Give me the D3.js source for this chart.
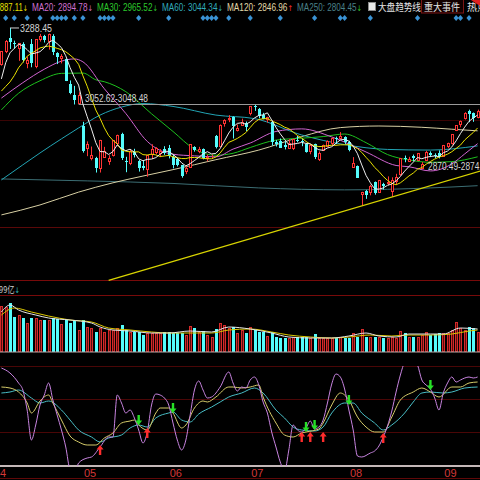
<!DOCTYPE html>
<html>
<head>
<meta charset="utf-8">
<script src="https://cdn.jsdelivr.net/npm/d3@7"></script>
<style>
html, body { margin: 0; padding: 0; background: #000; }
svg { display: block; }
</style>
</head>
<body>
<div id="chart"></div>
<script>
// trading days shown (2019-04-03 .. 2019-09-12)
var dates = ["04-03","04-04","04-08","04-09","04-10","04-11","04-12","04-15","04-16","04-17","04-18","04-19","04-22","04-23","04-24","04-25","04-26","04-29","04-30",
  "05-06","05-07","05-08","05-09","05-10","05-13","05-14","05-15","05-16","05-17","05-20","05-21","05-22","05-23","05-24","05-27","05-28","05-29","05-30","05-31",
  "06-03","06-04","06-05","06-06","06-10","06-11","06-12","06-13","06-14","06-17","06-18","06-19","06-20","06-21","06-24","06-25","06-26","06-27","06-28",
  "07-01","07-02","07-03","07-04","07-05","07-08","07-09","07-10","07-11","07-12","07-15","07-16","07-17","07-18","07-19","07-22","07-23","07-24","07-25","07-26","07-29","07-30","07-31",
  "08-01","08-02","08-05","08-06","08-07","08-08","08-09","08-12","08-13","08-14","08-15","08-16","08-19","08-20","08-21","08-22","08-23","08-26","08-27","08-28","08-29","08-30",
  "09-02","09-03","09-04","09-05","09-06","09-09","09-10","09-11","09-12"];

var open = [3177,3218,3258,3241,3226,3240,3180,3238,3171,3253, 3262,3247,3265,3210,3195,3192,3115,3081,3055,2984,
  2916,2884,2884,2851,2887,2875,2892,2929,2958,2874, 2867,2903,2875,2858,2850,2896,2901,2899,2910,2914,
  2887,2880,2861,2843,2855,2918,2905,2911,2884,2888, 2952,2920,2991,3004,3012,2970,2986,2993,3024,3046,
  3036,3017,3006,2997,2934,2936,2924,2915,2913,2940, 2935,2928,2904,2926,2880,2907,2921,2929,2946,2945,
  2950,2934,2855,2859,2770,2779,2777,2809,2777,2803, 2805,2782,2811,2834,2884,2875,2888,2877,2851,2876,
  2900,2894,2898,2889,2922,2931,2971,2990,3009,3030, 3024,3012];
var high = [3216.3,3251,3288.45,3249,3242,3244,3199,3254,3254,3270, 3267,3271,3269,3213,3207,3193,3125,3108,3088,2996,
  2935,2919,2887,2940,2918,2892,2939,2956,2962,2887, 2911,2912,2877,2876,2893,2926,2917,2911,2920,2924,
  2894,2884,2862,2860,2926,2920,2918,2913,2894,2894, 2955,2988,3004,3017,3013,2988,3006,2997,3045,3048.9,
  3039,3024,3012,3000,2939,2944,2935,2942,2943,2952, 2943,2930,2927,2928,2904,2925,2938,2947,2950,2964,
  2951,2937,2886,2860,2778,2784,2800,2810,2815,2806, 2826,2823,2834,2883,2891,2887,2894,2899,2870.49,2906,
  2904,2898,2907,2924,2931,2957,2986,3000,3026,3034, 3025,3034];
var low = [3171,3210,3223,3224,3186,3181,3163,3166,3163,3246, 3243,3221,3204,3176,3178,3123,3082,3050,3052.62,2900,
  2889,2876,2838,2838,2895,2862,2888,2920,2877,2839, 2861,2885,2841,2845,2825,2880,2895,2886,2893,2882,
  2851,2857,2822,2833,2852,2903,2898,2879,2873,2880, 2913,2917,2981,2995,2944,2966,2983,2967,3016,3030,
  3007,3004,2994,2922,2919,2915,2910,2913,2908,2932, 2920,2900,2895,2880,2874,2905,2917,2921,2927,2942,
  2927,2904,2855,2821,2733.92,2756,2767,2769,2776,2785, 2798,2762,2800,2828,2870,2871,2874,2874.6,2850,2875,
  2886,2883,2882,2889,2914,2925,2970,2979,3003,2995, 2996,3007];
var close = [3216.30,3246.57,3244.81,3239.66,3241.93,3189.96,3188.63,3177.79,3253.60,3263.12,
  3250.20,3270.80,3215.04,3198.59,3201.61,3123.83,3086.40,3062.50,3078.34,2906.46,
  2926.39,2893.76,2850.95,2939.21,2903.71,2883.61,2938.68,2955.71,2882.30,2870.60,
  2905.97,2891.70,2852.52,2852.99,2892.38,2909.91,2914.70,2905.81,2898.70,2890.08,
  2862.28,2861.42,2827.80,2852.13,2925.72,2909.38,2910.74,2881.97,2887.62,2890.16,
  2917.80,2987.12,3001.98,3008.15,2982.07,2976.28,2996.79,2978.88,3044.90,3043.94,
  3015.26,3005.25,3011.06,2933.36,2928.23,2915.30,2917.76,2930.55,2942.19,2937.62,
  2931.69,2901.95,2924.20,2886.97,2899.94,2923.28,2937.36,2944.54,2941.01,2952.34,
  2932.51,2908.77,2867.84,2821.50,2777.56,2768.68,2794.55,2774.75,2814.99,2797.26,
  2808.91,2815.80,2823.82,2883.10,2880.33,2880.00,2883.44,2897.43,2863.57,2902.19,
  2893.76,2890.92,2886.24,2924.11,2930.15,2957.41,2985.86,2999.60,3024.74,3021.20,
  3008.81,3031.24];
// closes of the 9 sessions before the window (for the short averages)
var preCloses = [3101.46,3104.15,3043.03,2997.10,3022.72,2994.94,3090.76,3170.36,3176.82];

// turnover, 亿
var volume = [4600,4500,4900,3500,3700,3400,2900,3400,3400,3200, 3200,3200,3400,3300,2800,3200,2900,3200,2200,3200,
  2500,2400,2000,2400,2000,2200,2200,2400,2700,2200, 2000,2000,2000,1700,1900,1900,1900,1900,2000,2000,
  1900,1900,1900,1700,2600,2400,2000,2100,1700,1500, 2300,2900,2700,2400,2500,1900,2200,1900,2500,2200,
  2000,2000,1600,2000,1500,1400,1400,1400,1500,1500, 1500,1500,1400,1800,1400,1400,1400,1400,1400,1500,
  1400,1400,1900,1500,2300,1500,1500,1500,1500,1400, 1400,1500,1400,2100,1900,1500,1500,1500,1700,2000,
  1700,1800,1900,1900,1900,2200,3000,2400,2200,2500, 2400,2000];

// longer averages: [session index, value]
var ma20 = [[0,3070],[5,3118],[10,3160],[14,3185],[17,3192],[19,3183],[24,3099],[29,3022],[34,2935],[40,2895],[45,2890],[50,2887],[54,2911],[58,2930],[64,2966],[70,2974],[77,2949],[85,2902],[92,2860],[95,2856],[100,2843],[105,2865],[108,2896],[111,2928]];
var ma30 = [[0,3033],[4,3085],[9,3124],[14,3147],[19,3148],[22,3127],[24,3121],[29,3090],[35,3021],[40,2966],[45,2911],[50,2892],[54,2898],[58,2916],[64,2939],[70,2945],[75,2950],[80,2958],[85,2931],[90,2894],[95,2877],[100,2870],[105,2872],[111,2887]];
var ma60 = [[0,2815],[5,2862],[9,2899],[14,2943],[18,2977],[23,3017],[28,3042],[33,3053],[40,3044],[50,3017],[59,3006],[70,2955],[80,2925],[90,2910],[100,2908],[111,2921]];
var ma120 = [[0,2706],[9,2737],[18,2777],[26,2806],[33,2827],[40,2847],[50,2878],[60,2908],[70,2950],[79,2978],[88,2983],[98,2979],[105,2973],[111,2968]];
var ma250 = [[0,2818],[20,2812],[40,2804],[60,2790],[80,2784],[100,2790],[111,2797]];
var trendLine = [[25,2502],[112,2844]];

var volMa5 = [[0,4000],[2,4700],[4,4200],[8,3700],[11,3400],[16,3200],[21,2900],[23,2500],[26,2200],[30,2100],[35,1900],[39,1900],[44,2100],[49,2000],[53,2500],[58,2300],[63,1900],[67,1500],[72,1400],[77,1400],[81,1600],[85,1900],[88,1600],[92,1500],[95,1800],[100,1800],[103,1800],[107,2400],[111,2300]];
var volMa10 = [[0,3700],[3,4400],[7,4000],[11,3600],[16,3200],[21,3000],[25,2400],[30,2200],[35,2000],[39,1900],[44,1900],[49,1900],[53,2200],[58,2300],[63,2000],[67,1700],[72,1500],[77,1400],[81,1500],[86,1700],[91,1600],[95,1700],[100,1700],[105,1800],[109,2100],[111,2200]];

// oscillator panel lines
var jLine = [[0,98],[2,93],[4,83],[5,76],[6,56],[7,26],[8,41],[9,61],[10,71],[11,83],[12,66],[13,51],[14,36],[15,19],[16,-4],[17,-8],[18,3],[20,8],[21,9],[23,19],[25,29],[26,29],[27,71],[28,63],[29,53],[30,56],[31,48],[32,36],[33,23],[34,34],[35,61],[36,72],[37,71],[38,68],[39,61],[40,43],[41,26],[42,16],[43,26],[44,51],[45,76],[46,85],[47,76],[48,68],[49,69],[51,79],[53,94],[54,83],[55,75],[56,79],[57,78],[58,86],[59,89],[60,81],[61,64],[62,53],[63,34],[64,19],[65,4],[66,-5],[67,16],[68,41],[69,36],[70,34],[71,38],[72,45],[73,37],[74,39],[75,46],[76,63],[77,82],[78,92],[79,89],[80,77],[81,56],[82,36],[83,10],[84,9],[86,13],[87,15],[88,20],[89,29],[90,40],[91,55],[92,74],[93,91],[94,104],[95,108],[96,106],[97,101],[98,86],[99,81],[100,77],[101,68],[102,56],[103,73],[104,83],[105,89],[106,84],[107,86],[108,88],[109,89],[110,88],[111,89]];
var kLine = [[0,79],[2,78],[4,74],[6,63],[7,53],[9,65],[11,71],[12,63],[14,46],[16,30],[18,24],[20,21],[22,21],[24,28],[26,33],[28,43],[30,45],[31,46],[32,41],[34,36],[36,53],[37,58],[39,58],[40,53],[42,38],[43,41],[45,58],[47,65],[48,64],[50,69],[53,79],[54,79],[56,78],[58,79],[60,81],[61,69],[64,43],[66,31],[68,29],[70,33],[71,34],[74,37],[75,43],[77,61],[79,73],[81,66],[83,49],[85,39],[87,34],[89,34],[91,49],[93,66],[96,74],[98,78],[100,74],[102,69],[105,79],[107,79],[109,83],[111,84]];
var dLine = [[0,73],[2,74],[4,76],[7,68],[9,63],[11,65],[14,56],[16,46],[18,36],[21,29],[23,24],[25,28],[28,31],[30,38],[32,41],[34,39],[36,48],[39,53],[40,54],[42,46],[44,44],[46,52],[49,59],[51,64],[53,69],[56,73],[59,78],[61,73],[64,56],[66,48],[68,39],[70,36],[73,35],[75,39],[77,53],[80,63],[82,63],[84,53],[87,43],[89,36],[91,41],[94,53],[96,64],[98,73],[100,74],[103,73],[105,74],[108,78],[111,79]];
var goldenCross = [[23,21],[34,38],[70,34],[72,34],[75,34],[89,33]];
var deadCross = [[32,41],[40,53],[71,34],[73,36],[81,61],[100,76]];

var eventDays = [1,3,6,9,12,13,14,15,17,19,23,24,25,26,32,39,47,48,49,50,53,58,65,73,79,80,86,97,106,107,109];
var monthLabels = ["04","05","06","07","08","09"];
var monthStart = [-2,19,39,58,81,103];

var maNames = ["MA10","MA20","MA30","MA60","MA120","MA250"];
var maLast = ["2887.11","2894.78","2965.52","3044.34","2846.96","2804.45"];
var maTrend = ["↓","↓","↓","↓","↑","↓"];

var red = "#ff3434", cyan = "#54fcfc";

var svg = d3.select("#chart").append("svg")
  .attr("width", 480)
  .attr("height", 480);
svg.append("rect").attr("width", 480).attr("height", 480).attr("fill", "#000");

var x = d3.scaleLinear().domain([0, dates.length - 1]).range([1.4, 477.6]);
var yPrice = d3.scaleLinear().domain([2500, 3332]).range([281, 14]);
var yVol = d3.scaleLinear().domain([0, 5600]).range([352, 296]);
var yInd = d3.scaleLinear().domain([0, 100]).range([466, 366]);

var defs = svg.append("defs");
defs.append("clipPath").attr("id", "clipMain").append("rect")
  .attr("x", 0).attr("y", 13).attr("width", 480).attr("height", 268);
defs.append("clipPath").attr("id", "clipInd").append("rect")
  .attr("x", 0).attr("y", 366).attr("width", 480).attr("height", 100);

// text squeezed horizontally to a given width (the terminal font is narrow)
function fitText(x0, y, width, build) {
  var g = svg.append("g");
  var t = g.append("text");
  build(t);
  var w = t.node().getComputedTextLength() || width;
  g.attr("transform", "translate(" + x0 + "," + y + ") scale(" + (width / w) + ",1)");
  return t;
}

// panel frame lines
function hline(y, color, w) {
  svg.append("line").attr("x1", 0).attr("x2", 480).attr("y1", y).attr("y2", y)
    .attr("stroke", color).attr("stroke-width", w || 1);
}
hline(120.5, "#3a0404");
hline(227.5, "#5a0808");
hline(280.5, "#780a0a");
hline(295.5, "#780a0a");
hline(366.5, "#4a0606");
hline(399.5, "#4a0606");
hline(432.5, "#4a0606");
hline(466, "#c4b8b8", 2);
hline(478.5, "#600808");

// ---- main panel ----
var main = svg.append("g").attr("clip-path", "url(#clipMain)");

var sparsePrice = d3.line().x(function(d) { return x(d[0]); }).y(function(d) { return yPrice(d[1]); })
  .curve(d3.curveMonotoneX);

[[ma250, "#3c6e74"], [ma120, "#d8d0a4"], [ma60, "#22a4b4"], [ma30, "#1ec01e"], [ma20, "#d064d0"]]
  .forEach(function(s) {
    main.append("path").datum(s[0]).attr("d", sparsePrice)
      .attr("fill", "none").attr("stroke", s[1]).attr("stroke-width", 1);
  });

// gap line 3052.62
main.append("line")
  .attr("x1", x(18)).attr("x2", 480)
  .attr("y1", Math.round(yPrice(3052.62)) + 0.5).attr("y2", Math.round(yPrice(3052.62)) + 0.5)
  .attr("stroke", "#9a9a9a");

var bars = dates.map(function(d, i) {
  return {i: i, o: open[i], h: high[i], l: low[i], c: close[i], v: volume[i]};
});

main.selectAll("g.candle").data(bars).enter().append("g").attr("class", "candle")
  .each(function(d) {
    var g = d3.select(this);
    var xc = Math.round(x(d.i));
    var up = d.c >= d.o;
    var top = Math.round(yPrice(Math.max(d.o, d.c)));
    var bot = Math.round(yPrice(Math.min(d.o, d.c)));
    if (up) {
      g.append("line").attr("x1", xc + 0.5).attr("x2", xc + 0.5)
        .attr("y1", yPrice(d.h)).attr("y2", top).attr("stroke", red);
      g.append("line").attr("x1", xc + 0.5).attr("x2", xc + 0.5)
        .attr("y1", bot).attr("y2", yPrice(d.l)).attr("stroke", red);
      g.append("rect").attr("x", xc - 0.5).attr("y", top + 0.5)
        .attr("width", 2).attr("height", Math.max(bot - top, 0))
        .attr("fill", "#000").attr("stroke", red);
    } else {
      g.append("line").attr("x1", xc + 0.5).attr("x2", xc + 0.5)
        .attr("y1", yPrice(d.h)).attr("y2", yPrice(d.l)).attr("stroke", cyan);
      g.append("rect").attr("x", xc - 1).attr("y", top)
        .attr("width", 3).attr("height", Math.max(bot - top, 1))
        .attr("fill", cyan);
    }
  });

// short averages from the closes
var allCloses = preCloses.concat(close);
function movingAverage(len) {
  return close.map(function(c, i) {
    var j = i + preCloses.length;
    return d3.mean(allCloses.slice(j - len + 1, j + 1));
  });
}
var dailyLine = d3.line().x(function(d, i) { return x(i); }).y(function(d) { return yPrice(d); });
main.append("path").datum(movingAverage(10)).attr("d", dailyLine)
  .attr("fill", "none").attr("stroke", "#e8e000").attr("stroke-width", 1);
main.append("path").datum(movingAverage(5)).attr("d", dailyLine)
  .attr("fill", "none").attr("stroke", "#eeeeee").attr("stroke-width", 1);

// trend line
main.append("path").datum(trendLine)
  .attr("d", d3.line().x(function(d) { return x(d[0]); }).y(function(d) { return yPrice(d[1]); }))
  .attr("fill", "none").attr("stroke", "#d8d400").attr("stroke-width", 1.3);

// price annotations
svg.append("line").attr("x1", x(2)).attr("x2", 19)
  .attr("y1", yPrice(3288.45)).attr("y2", yPrice(3288.45)).attr("stroke", "#d0d0d0");
var annoFont = "'Liberation Sans', Arial, sans-serif";
function anno(x0, y, width, str) {
  fitText(x0, y, width, function(t) {
    t.text(str).attr("font-family", annoFont).attr("font-size", 10).attr("fill", "#d4d4d4");
  });
}
anno(20, 32, 32, "3288.45");
anno(85, 102, 63, "3052.62-3048.48");
anno(428, 170, 63, "2870.49-2874.61");

// ---- header ----
var legendColors = ["#e8e000", "#d070d0", "#2cc82c", "#30aabb", "#e0d8a8", "#4a8088"];
var legendSpan = [[-29, 28], [32, 93], [97, 158], [162, 223], [227, 293], [297, 362]];
maNames.forEach(function(name, k) {
  var s = legendSpan[k];
  var ac = maTrend[k] === "↑" ? "#ff3030" : (k === 5 ? "#2cc82c" : legendColors[k]);
  fitText(s[0], 11, s[1] - s[0], function(t) {
    t.attr("font-family", annoFont).attr("font-size", 10);
    t.append("tspan").attr("fill", legendColors[k]).text(name + ": " + maLast[k]);
    t.append("tspan").attr("fill", ac).attr("font-family", "'DejaVu Sans', sans-serif")
      .attr("font-size", 8).text(maTrend[k]);
  });
});
svg.append("rect").attr("x", 368.5).attr("y", 2.5).attr("width", 7).attr("height", 8)
  .attr("fill", "#e8e8e8").attr("stroke", "#8a8a8a");
var cjk = "'Noto Sans CJK SC', sans-serif";
function cjkText(x0, width, str) {
  fitText(x0, 11, width, function(t) {
    t.text(str).attr("font-family", cjk).attr("font-size", 10).attr("fill", "#e6e6e6");
  });
}
cjkText(378, 43, "大盘趋势线");
svg.append("rect").attr("x", 421.5).attr("y", -1).attr("width", 42).attr("height", 14)
  .attr("fill", "#120000").attr("stroke", "#7a1414");
cjkText(424, 36, "重大事件");
cjkText(467, 20, "热点");
svg.append("polygon").attr("points", "471,0 480,0 480,6").attr("fill", "#e02020");

// event markers
svg.selectAll("path.event").data(eventDays).enter().append("path")
  .attr("class", "event")
  .attr("transform", function(d) { return "translate(" + x(d) + ",18)"; })
  .attr("d", "M0,-3L2.6,0L0,3L-2.6,0Z")
  .attr("fill", "#3a92d4");

// ---- volume panel ----
var vol = svg.append("g");
vol.selectAll("g.vbar").data(bars).enter().append("g").attr("class", "vbar")
  .each(function(d) {
    var g = d3.select(this);
    var xc = Math.round(x(d.i));
    var top = Math.round(yVol(d.v));
    if (d.c >= d.o) {
      g.append("rect").attr("x", xc - 0.5).attr("y", top + 0.5)
        .attr("width", 2).attr("height", 351 - top)
        .attr("fill", "#5a0c0c").attr("stroke", "#d42a2a");
    } else {
      g.append("rect").attr("x", xc - 1).attr("y", top)
        .attr("width", 3).attr("height", 352 - top).attr("fill", cyan);
    }
  });
var sparseVol = d3.line().x(function(d) { return x(d[0]); }).y(function(d) { return yVol(d[1]); })
  .curve(d3.curveMonotoneX);
vol.append("path").datum(volMa10).attr("d", sparseVol)
  .attr("fill", "none").attr("stroke", "#dcc800").attr("stroke-width", 1);
vol.append("path").datum(volMa5).attr("d", sparseVol)
  .attr("fill", "none").attr("stroke", "#e6e6e6").attr("stroke-width", 1);
hline(352, "#b8a8a8", 1.2);

fitText(-9, 293, 29, function(t) {
  t.attr("font-family", cjk).attr("font-size", 9);
  t.append("tspan").attr("fill", "#d0d0d0").text("1899亿");
  t.append("tspan").attr("fill", "#30b8b8").attr("font-family", "'DejaVu Sans', sans-serif")
    .attr("font-size", 8).text("↓");
});

// ---- oscillator panel ----
var ind = svg.append("g").attr("clip-path", "url(#clipInd)");
var sparseInd = d3.line().x(function(d) { return x(d[0]); }).y(function(d) { return yInd(d[1]); })
  .curve(d3.curveMonotoneX);
[[dLine, "#48bcc4"], [kLine, "#d6cc6a"], [jLine, "#c884e0"]].forEach(function(s) {
  ind.append("path").datum(s[0]).attr("d", sparseInd)
    .attr("fill", "none").attr("stroke", s[1]).attr("stroke-width", 1);
});
svg.selectAll("path.gold").data(goldenCross).enter().append("path")
  .attr("class", "gold")
  .attr("transform", function(d) { return "translate(" + x(d[0]) + "," + yInd(d[1]) + ")"; })
  .attr("d", "M0,0L3.5,4.5L1.2,4.5L1.2,10L-1.2,10L-1.2,4.5L-3.5,4.5Z")
  .attr("fill", "#ff2c2c");
svg.selectAll("path.dead").data(deadCross).enter().append("path")
  .attr("class", "dead")
  .attr("transform", function(d) { return "translate(" + x(d[0]) + "," + yInd(d[1]) + ")"; })
  .attr("d", "M0,0L3.5,-4.5L1.2,-4.5L1.2,-10L-1.2,-10L-1.2,-4.5L-3.5,-4.5Z")
  .attr("fill", "#26e026");

// ---- month labels ----
svg.selectAll("text.month").data(monthLabels).enter().append("text")
  .attr("class", "month")
  .attr("x", function(d, k) { return x(monthStart[k]) + 1; })
  .attr("y", 477)
  .text(function(d) { return d; })
  .attr("font-family", annoFont).attr("font-size", 11).attr("fill", "#d43838");
</script>
</body>
</html>
